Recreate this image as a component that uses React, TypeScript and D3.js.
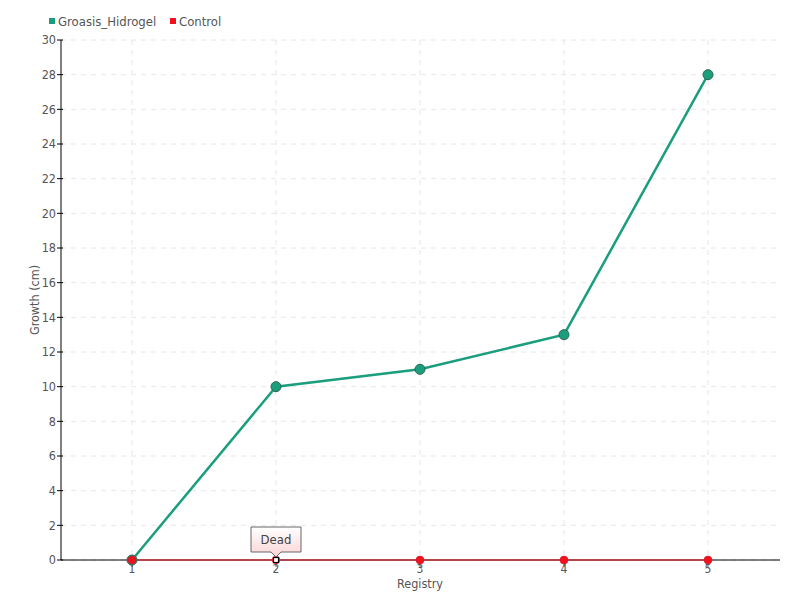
import React from "react";
import * as d3 from "d3";

const registries = [1, 2, 3, 4, 5];
const groasisValues = [0, 10, 11, 13, 28];
const controlValues = [0, 0, 0, 0, 0];
const yTicks = d3.range(0, 31, 2);
const seriesNames = ["Groasis_Hidrogel", "Control"];
const seriesColors = ["#1a9e7e", "#f01020"];
const annotationText = "Dead";
const annotationIndex = 1;

const W = 800, H = 600;
const left = 61, right = 780, top = 40, bottom = 560;
const font = "'DejaVu Sans Condensed', 'Liberation Sans Narrow', sans-serif";

export default function App() {
  const x = d3.scaleLinear().domain([0.5, 5.5]).range([60, 780]);
  const y = d3.scaleLinear().domain([0, 30]).range([bottom, top]);
  const line = d3.line<number>().x((_, i) => x(registries[i])).y(d => y(d));
  const ax = x(registries[annotationIndex]);
  const ay = y(controlValues[annotationIndex]);
  return (
    <svg width={W} height={H} style={{ display: "block", position: "absolute", left: 0, top: 0 }} fontFamily={font}>
      <defs>
        <linearGradient id="tip" x1="0" y1="0" x2="0" y2="1">
          <stop offset="0" stopColor="#ffffff" />
          <stop offset="1" stopColor="#fbd3d3" />
        </linearGradient>
      </defs>
      <rect width={W} height={H} fill="#fff" />
      {/* grid */}
      {yTicks.map(t => (
        <line key={"gy" + t} x1={left} x2={right} y1={y(t)} y2={y(t)} stroke="#e6e6e6" strokeDasharray="5,5" />
      ))}
      {registries.map(r => (
        <line key={"gx" + r} x1={x(r)} x2={x(r)} y1={top} y2={bottom} stroke="#e6e6e6" strokeDasharray="5,5" />
      ))}
      {/* axes */}
      <line x1={left} x2={left} y1={top} y2={bottom} stroke="#000" />
      <line x1={left} x2={right} y1={bottom} y2={bottom} stroke="#000" />
      {yTicks.map(t => (
        <g key={"ty" + t}>
          <line x1={left - 4} x2={left + 2} y1={y(t)} y2={y(t)} stroke="#000" />
          <text x={left - 5} y={y(t)} dy="0.35em" textAnchor="end" fontSize={12.5} fill="#555">{t}</text>
        </g>
      ))}
      {registries.map(r => (
        <g key={"tx" + r}>
          <line x1={x(r)} x2={x(r)} y1={bottom} y2={bottom + 7} stroke="#555" />
          <text x={x(r)} y={bottom + 13} textAnchor="middle" fontSize={12} fill="#555">{r}</text>
        </g>
      ))}
      <text x={420} y={588} textAnchor="middle" fontSize={12.5} fill="#555">Registry</text>
      <text transform={`translate(39,${(top + bottom) / 2}) rotate(-90)`} textAnchor="middle" fontSize={12.5} fill="#555">Growth (cm)</text>
      {/* series */}
      <path d={line(groasisValues) || ""} fill="none" stroke={seriesColors[0]} strokeWidth={2.5} />
      <path d={line(controlValues) || ""} fill="none" stroke={seriesColors[1]} strokeWidth={1.2} />
      {groasisValues.map((v, i) => (
        <circle key={"gp" + i} cx={x(registries[i])} cy={y(v)} r={5} fill={seriesColors[0]} stroke="#2a6650" strokeWidth={1} />
      ))}
      {controlValues.map((v, i) => (
        i === annotationIndex ? (
          <g key={"cp" + i}>
            <circle cx={x(registries[i])} cy={y(v)} r={4} fill={seriesColors[1]} />
            <rect x={x(registries[i]) - 2.5} y={y(v) - 2.5} width={5} height={5} fill="#fff" stroke="#000" strokeWidth={1.2} />
          </g>
        ) : (
          <circle key={"cp" + i} cx={x(registries[i])} cy={y(v)} r={4} fill={seriesColors[1]} stroke="#cc1a1a" strokeWidth={0.5} />
        )
      ))}
      {/* annotation */}
      <path d={`M${ax - 25},${ay - 33} H${ax + 25} V${ay - 8} H${ax + 5} L${ax},${ay - 3} L${ax - 5},${ay - 8} H${ax - 25} Z`}
        fill="url(#tip)" stroke="#666" strokeWidth={1} />
      <text x={ax} y={ay - 16} textAnchor="middle" fontSize={13} fill="#444">{annotationText}</text>
      {/* legend */}
      <rect x={49} y={18} width={6} height={6} fill={seriesColors[0]} />
      <text x={58} y={26} fontSize={13} fill="#555">{seriesNames[0]}</text>
      <rect x={170} y={18} width={6} height={6} fill={seriesColors[1]} />
      <text x={179} y={26} fontSize={13} fill="#555">{seriesNames[1]}</text>
    </svg>
  );
}
